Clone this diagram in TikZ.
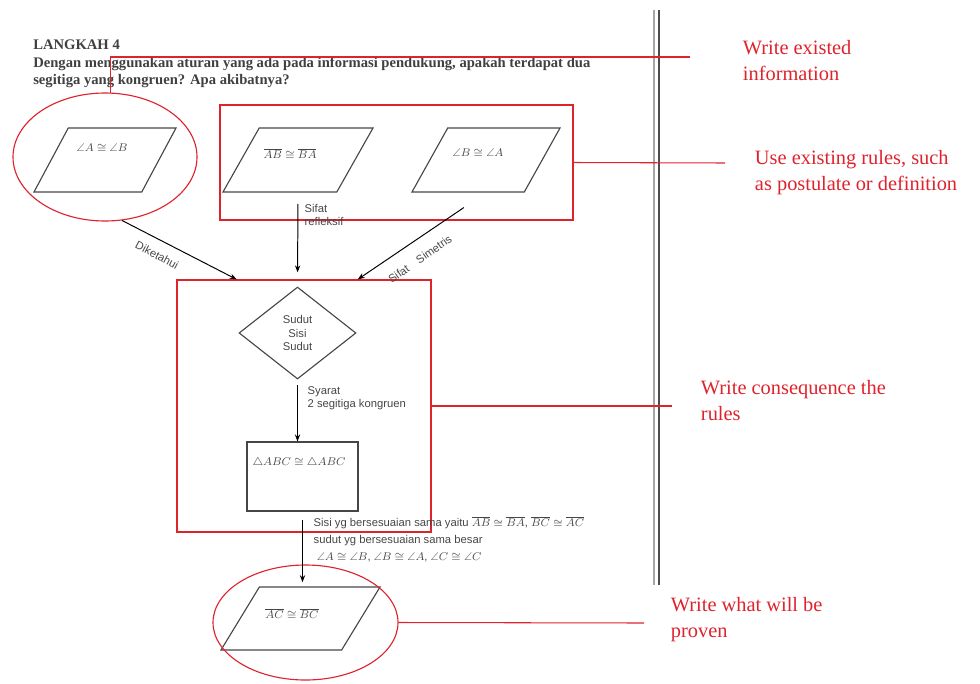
\documentclass[tikz,border=0pt]{standalone}
\usepackage{fontspec}
\setmainfont{Liberation Serif}
\setsansfont{Liberation Sans}
\usepackage{amssymb}
\usetikzlibrary{shapes.geometric, arrows.meta, positioning}
\definecolor{notered}{RGB}{222, 35, 45}
\definecolor{inkgray}{RGB}{70, 70, 70}
\newcommand{\pxu}{0.025cm}

\begin{document}
\begin{tikzpicture}[
  x=\pxu, y=-\pxu,
  para/.style={trapezium, trapezium left angle=65, trapezium right angle=115, trapezium stretches=true, draw=inkgray, line width=0.8pt, inner sep=1pt, minimum height=64*\pxu},
  hand/.style={font=\sffamily\footnotesize, text=inkgray, inner sep=1pt},
  redbox/.style={rectangle, draw=notered, line width=0.8pt, inner sep=1pt},
  redring/.style={ellipse, draw=notered, line width=0.8pt, inner sep=1pt},
  note/.style={font=\fontsize{14.5}{18.5}\selectfont, text=notered, align=left, anchor=west},
  arrow/.style={-{Stealth[length=5pt]}, draw=black, line width=0.7pt},
  redline/.style={draw=notered, line width=0.75pt}
]
  \useasboundingbox (0,0) rectangle (980,684);

  % task text
  \node[font=\fontsize{10.4}{12.4}\selectfont\bfseries, text=black!75, align=left, anchor=north west, inner sep=0pt] (task) at (33,40)
    {LANGKAH 4\\Dengan menggunakan aturan yang ada pada informasi pendukung, apakah terdapat dua\\segitiga yang kongruen? Apa akibatnya?};

  % page border
  \draw[black!35, line width=1.2pt] (654,10) -- (654,585);
  \draw[black!70, line width=1.2pt] (659,10) -- (659,585);

  % given information
  \node[para, minimum width=142*\pxu] (p1) at (105,160) {};
  \node[hand] (p1txt) at (102,148) {$\angle A \cong \angle B$};
  \node[redring, minimum width=184*\pxu, minimum height=128*\pxu] (e1) at (105,157) {};

  % rules
  \node[para, minimum width=150*\pxu] (p2) at (298,160) {};
  \node[hand] (p2txt) at (290,154) {$\overline{AB} \cong \overline{BA}$};
  \node[para, minimum width=148*\pxu] (p3) at (486,160) {};
  \node[hand] (p3txt) at (478,153) {$\angle B \cong \angle A$};
  \node[redbox, minimum width=353*\pxu, minimum height=115*\pxu] (r2) at (396.5,162.5) {};

  % consequence
  \node[diamond, draw=inkgray, line width=0.8pt, inner sep=0pt, minimum width=117*\pxu, minimum height=92*\pxu,
    font=\sffamily\footnotesize, text=inkgray, align=center] (ssd) at (297.5,333) {Sudut\\Sisi\\Sudut};
  \node[rectangle, draw=inkgray, line width=0.8pt, minimum width=111*\pxu, minimum height=69*\pxu] (abc) at (302.5,476.5) {};
  \node[hand] (abctxt) at (299,463) {$\triangle ABC \cong \triangle ABC$};
  \node[redbox, minimum width=254*\pxu, minimum height=252*\pxu] (r3) at (304,406) {};

  % what will be proven
  \node[para, minimum width=159*\pxu, minimum height=63*\pxu] (p4) at (300.5,618.5) {};
  \node[hand] (p4txt) at (292,614) {$\overline{AC} \cong \overline{BC}$};
  \node[redring, minimum width=185*\pxu, minimum height=115*\pxu] (e2) at (305.5,622.5) {};

  % arrows
  \draw[arrow] (e1.-75) -- (r3.118);
  \draw[arrow, shorten <=8pt, shorten >=10pt] (p2.south) -- (ssd.north);
  \draw[arrow, shorten <=19pt] (p3.south) -- (r3.67);
  \draw[arrow, shorten <=4pt] (ssd.south) -- (ssd.south |- abc.north);
  \draw[arrow, shorten <=6pt, shorten >=3pt] (abc.south) -- (abc.south |- p4.north);

  \node[hand, rotate=-28] (lbl1) at (157,255) {Diketahui};
  \node[hand, align=left, anchor=west] (lbl2) at (303,215) {Sifat\\refleksif};
  \node[hand, rotate=35] (lbl3) at (420,259) {Sifat\quad Simetris};
  \node[hand, align=left, anchor=west] (lbl4) at (306,398) {Syarat\\2 segitiga kongruen};
  \node[hand, font=\sffamily\fontsize{8}{12}\selectfont, align=left, anchor=north west] (lbl5) at (312,515)
    {Sisi yg bersesuaian sama yaitu $\overline{AB} \cong \overline{BA}$, $\overline{BC} \cong \overline{AC}$\\
     sudut yg bersesuaian sama besar\\
     \ $\angle A \cong \angle B$, $\angle B \cong \angle A$, $\angle C \cong \angle C$};

  % notes
  \coordinate (c1) at (690,57);
  \coordinate (c2) at (725,163);
  \coordinate (c3) at (672,406);
  \coordinate (c4) at (644,623);
  \draw[redline] (e1.85) |- (c1);
  \draw[redline] (r2.east) -- (c2);
  \draw[redline] (r3.east) -- (c3);
  \draw[redline] (e2.east) -- (c4);

  \node[note] (n1) at (738,61) {Write existed\\information};
  \node[note] (n2) at (750,173) {Use existing rules, such\\as postulate or definition};
  \node[note] (n3) at (696,401) {Write consequence the\\rules};
  \node[note] (n4) at (666,620) {Write what will be\\proven};
\end{tikzpicture}
\end{document}
